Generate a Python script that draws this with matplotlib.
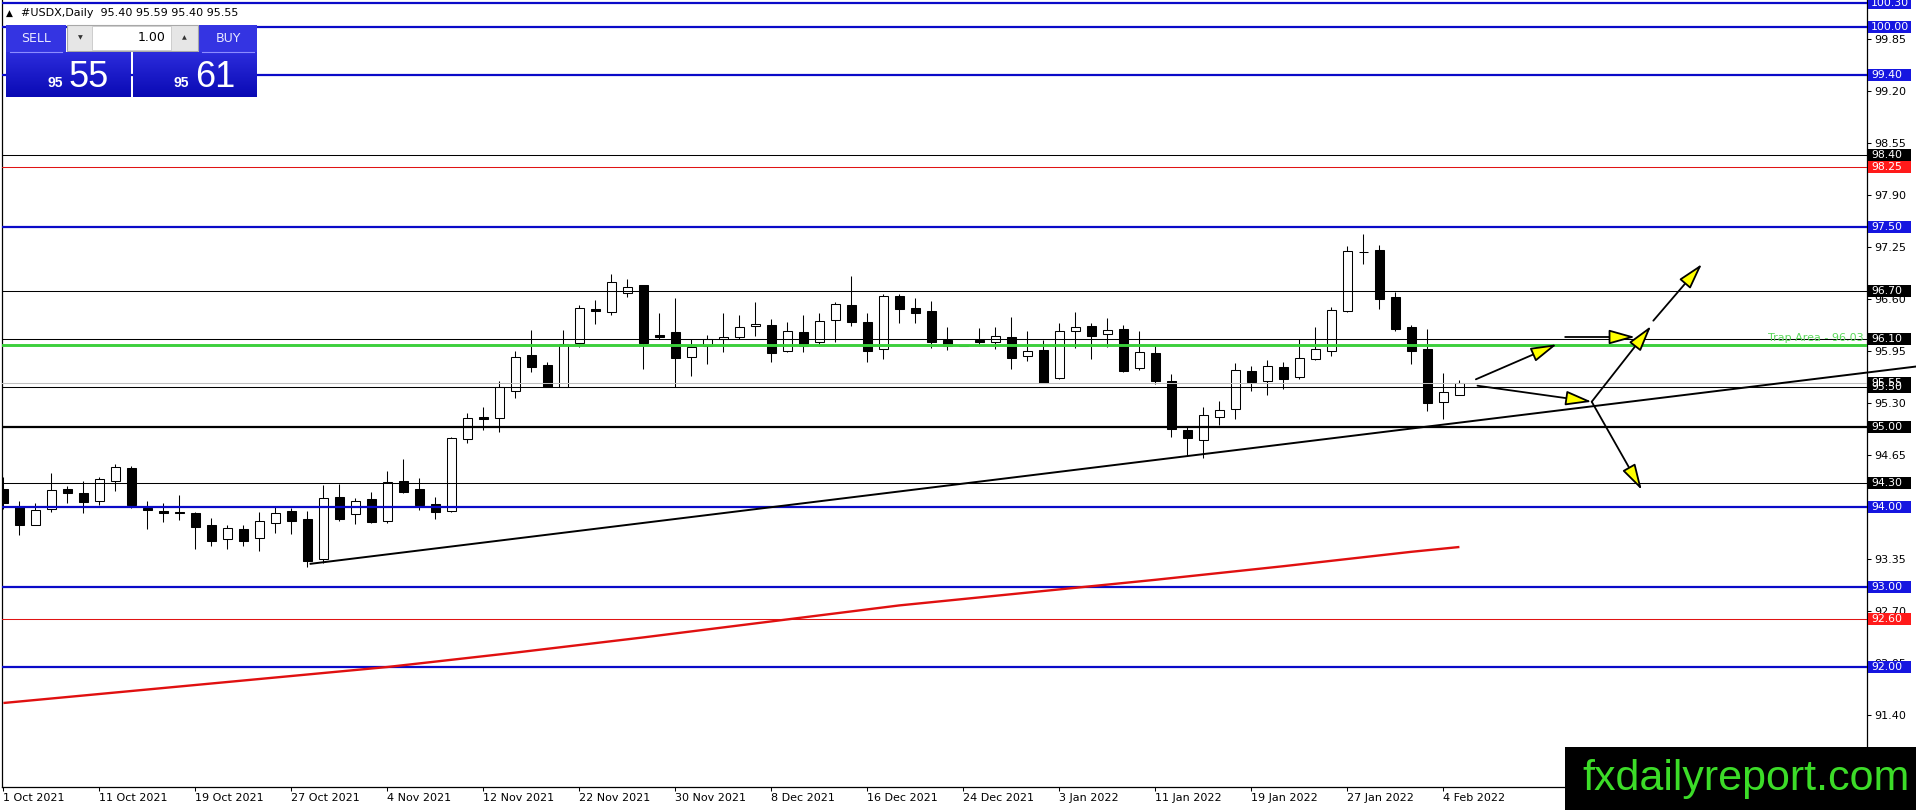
import numpy as np
import matplotlib
matplotlib.use("Agg")
import matplotlib.pyplot as plt
import matplotlib.transforms as mtransforms
from matplotlib.patches import Rectangle
from matplotlib.colors import LinearSegmentedColormap

# ---------------- data ----------------
symbol = "#USDX,Daily"
date_labels = ["1 Oct 2021", "11 Oct 2021", "19 Oct 2021", "27 Oct 2021", "4 Nov 2021",
               "12 Nov 2021", "22 Nov 2021", "30 Nov 2021", "8 Dec 2021", "16 Dec 2021",
               "24 Dec 2021", "3 Jan 2022", "11 Jan 2022", "19 Jan 2022", "27 Jan 2022",
               "4 Feb 2022"]
date_label_bars = [0, 6, 12, 18, 24, 30, 36, 42, 48, 54, 60, 66, 72, 78, 84, 90]

opens = [94.225, 94.004, 93.77, 93.97, 94.22, 94.175, 94.079, 94.33, 94.4875, 93.987,
         93.95, 93.937, 93.925, 93.77, 93.596, 93.72, 93.617, 93.796, 93.95, 93.85,
         93.35, 94.121, 93.908, 94.096, 93.829, 94.321, 94.225, 94.0375, 93.954, 94.846,
         95.12, 95.108, 95.45, 95.9, 95.77, 95.504, 96.046, 96.471, 96.442, 96.671,
         96.775, 96.146, 96.1875, 95.879, 96.017, 96.10, 96.129, 96.258, 96.271, 95.946,
         96.1875, 96.058, 96.342, 96.525, 96.308, 95.971, 96.633, 96.483, 96.45, 96.092,
         96.02, 96.092, 96.058, 96.121, 95.883, 95.9625, 95.617, 96.196, 96.2625, 96.158,
         96.225, 95.733, 95.925, 95.575, 94.958, 94.833, 95.121, 95.221, 95.696, 95.579,
         95.75, 95.621, 95.846, 95.946, 96.446, 97.19, 97.2125, 96.621, 96.246, 95.975,
         95.308, 95.40]
highs = [94.37, 94.075, 94.046, 94.42, 94.26, 94.32, 94.375, 94.5375, 94.51, 94.075,
         94.054, 94.15, 93.94, 93.858, 93.775, 93.775, 93.94, 94.004, 93.992, 93.95,
         94.275, 94.2875, 94.1125, 94.1875, 94.45, 94.596, 94.358, 94.12, 94.871, 95.17,
         95.246, 95.575, 95.95, 96.2125, 95.808, 96.2125, 96.525, 96.59, 96.9125, 96.85,
         96.78, 96.42, 96.608, 96.104, 96.146, 96.42, 96.40, 96.558, 96.346, 96.3125,
         96.40, 96.42, 96.558, 96.892, 96.42, 96.6625, 96.6625, 96.608, 96.575, 96.25,
         96.03, 96.2375, 96.25, 96.375, 96.20, 96.0875, 96.296, 96.4375, 96.304, 96.358,
         96.275, 96.196, 96.021, 95.658, 95.0125, 95.25, 95.325, 95.796, 95.7625, 95.8375,
         95.8125, 96.10, 96.246, 96.504, 97.2625, 97.408, 97.271, 96.6875, 96.271, 96.225,
         95.671, 95.59]
lows = [93.98, 93.654, 93.77, 93.94, 94.05, 93.92, 94.02, 94.204, 93.99, 93.73,
        93.817, 93.837, 93.47, 93.51, 93.47, 93.51, 93.454, 93.68, 93.667, 93.254,
        93.296, 93.83, 93.7875, 93.796, 93.804, 94.17, 93.96, 93.854, 93.94, 94.804,
        94.9625, 94.942, 95.367, 95.692, 95.496, 95.496, 96.004, 96.283, 96.40, 96.62,
        95.72, 96.096, 95.504, 95.642, 95.792, 95.942, 96.096, 96.1375, 95.817, 95.9375,
        95.942, 96.017, 96.067, 96.267, 95.817, 95.846, 96.304, 96.304, 95.992, 95.958,
        96.01, 96.017, 95.971, 95.729, 95.829, 95.546, 95.596, 95.992, 95.854, 96.004,
        95.683, 95.7125, 95.542, 94.879, 94.6375, 94.608, 95.03, 95.104, 95.454, 95.396,
        95.471, 95.596, 95.833, 95.8875, 96.44, 97.033, 96.479, 96.20, 95.783, 95.204,
        95.104, 95.40]
closes = [94.046, 93.779, 93.96, 94.208, 94.18, 94.067, 94.346, 94.496, 94.025, 93.958,
          93.92, 93.92, 93.754, 93.58, 93.733, 93.58, 93.825, 93.92, 93.829, 93.329,
          94.108, 93.854, 94.071, 93.817, 94.308, 94.192, 94.025, 93.942, 94.8625, 95.108,
          95.096, 95.496, 95.879, 95.754, 95.496, 96.0375, 96.483, 96.454, 96.808, 96.746,
          96.054, 96.129, 95.867, 95.996, 96.096, 96.121, 96.246, 96.283, 95.929, 96.196,
          96.017, 96.321, 96.533, 96.317, 95.954, 96.633, 96.479, 96.429, 96.067, 96.017,
          96.015, 96.058, 96.133, 95.867, 95.95, 95.546, 96.196, 96.246, 96.142, 96.2125,
          95.704, 95.9375, 95.579, 94.971, 94.858, 95.146, 95.208, 95.708, 95.567, 95.758,
          95.604, 95.858, 95.971, 96.458, 97.196, 97.183, 96.604, 96.229, 95.954, 95.304,
          95.442, 95.55]

ma_bars = [0, 8, 16, 24, 32, 40, 48, 56, 64, 72, 80, 88, 91]
ma_values = [91.55, 91.70, 91.85, 92.00, 92.18, 92.37, 92.57, 92.77, 92.93, 93.09, 93.26, 93.44, 93.50]

level_prices = [100.30, 100.00, 99.40, 98.40, 98.25, 97.50, 96.70, 96.10, 95.50,
                95.00, 94.30, 94.00, 93.00, 92.60, 92.00]
level_kinds = ["blue", "blue", "blue", "black", "red", "blue", "black", "black", "black",
               "black2", "black", "blue", "blue", "red", "blue"]
trap_level = 96.03
trap_text = "Trap Area - 96.03"
bid_price = 95.55
ask_price = 95.61
lot_size = "1.00"

trend_x = [19.2, 119.5]
trend_y = [93.29, 95.755]

arrow_starts = [(92.03, 95.596), (97.61, 96.125), (92.13, 95.516), (99.27, 95.316),
                (103.12, 96.329), (99.27, 95.316)]
arrow_tips = [(97.09, 96.034), (101.98, 96.125), (99.27, 95.316), (102.98, 96.2625),
              (106.16, 97.0375), (102.4, 94.2125)]

y_ticks = [91.40, 92.05, 92.70, 93.35, 94.00, 94.65, 95.30, 95.95, 96.60, 97.25,
           97.90, 98.55, 99.20, 99.85]

# ---------------- styles ----------------
W, H = 1916, 810
BLUE_LINE = "#0a0ac8"
BLUE_BOX = "#1616e0"
RED = "#e01414"
GREEN = "#3ccf3c"
kind_style = {
    "blue": (BLUE_LINE, 1.6, BLUE_BOX),
    "black": ("black", 0.75, "black"),
    "black2": ("black", 1.6, "black"),
    "red": (RED, 0.75, "#ff1a1a"),
}

fig = plt.figure(figsize=(W / 100, H / 100), dpi=100)
fig.patch.set_facecolor("white")
ax_left, ax_right, ax_bottom, ax_top = 2, 1867, 787, 0
ax = fig.add_axes([ax_left / W, (H - ax_bottom) / H, (ax_right - ax_left) / W,
                   (ax_bottom - ax_top) / H])
ax.set_facecolor("white")

x = np.arange(len(opens))
o = np.array(opens)
c = np.array(closes)
up = c >= o
ax.vlines(x, lows, highs, color="black", lw=0.75, zorder=2)
bottoms = np.minimum(o, c)
heights = np.maximum(np.abs(c - o), 0.004)
ax.bar(x, heights, bottom=bottoms, width=0.6,
       color=np.where(up, "white", "black"), edgecolor="black", linewidth=0.75, zorder=3)

# horizontal levels
ax.axhline(bid_price, color="#c0c0c0", lw=0.75, zorder=4)
for p, k in zip(level_prices, level_kinds):
    col, lw, _ = kind_style[k]
    ax.axhline(p, color=col, lw=lw, zorder=4)
ax.axhline(trap_level, color=GREEN, lw=2.1, zorder=4)

# moving average
ax.plot(ma_bars, ma_values, color="#e01010", lw=1.7, zorder=4, solid_capstyle="butt")

# trendline
ax.plot(trend_x, trend_y, color="black", lw=1.4, zorder=5, clip_on=False)

# arrows
for s, t in zip(arrow_starts, arrow_tips):
    ax.annotate("", xy=t, xytext=s,
                arrowprops=dict(arrowstyle="-|>,head_length=1.6,head_width=0.45",
                                mutation_scale=10, fc="#ffff00", ec="black", lw=1.3,
                                shrinkA=0, shrinkB=0), zorder=6)

ax.set_xlim((ax_left - 3.4) / 16, (ax_right - 3.4) / 16)
top_price = 100 + 27 / 80
bot_price = 100 - (ax_bottom - 27) / 80
ax.set_ylim(bot_price, top_price)

# axes styling
ax.spines["top"].set_visible(False)
for side in ["left", "right", "bottom"]:
    ax.spines[side].set_linewidth(0.9)
ax.yaxis.tick_right()
ax.set_yticks(y_ticks)
ax.set_yticklabels([f"{v:.2f}" for v in y_ticks])
ax.tick_params(axis="y", direction="out", length=3, width=0.75, pad=2, labelsize=8)
ax.set_xticks(date_label_bars)
ax.set_xticklabels(date_labels)
ax.tick_params(axis="x", direction="out", length=3, width=0.75, pad=1.5, labelsize=8)
for lbl in ax.get_xticklabels():
    lbl.set_ha("left")

# price label boxes on the right
trans = mtransforms.blended_transform_factory(fig.transFigure, ax.transData)
hh = 6.4 / 80
box_items = [(bid_price, "black")] + [b for b in zip(level_prices, level_kinds) if b[0] != 95.50] + \
            [b for b in zip(level_prices, level_kinds) if b[0] == 95.50]
for p, k in box_items:
    bc = kind_style[k][2]
    ax.add_patch(Rectangle((1868 / W, p - hh), 43 / W, 2 * hh, transform=trans,
                           fc=bc, ec="none", clip_on=False, zorder=7))
    ax.text(1871 / W, p, f"{p:.2f}", transform=trans, color="white", fontsize=7.8,
            ha="left", va="center", zorder=8, clip_on=False)

ax.text(1864 / W, trap_level + 3.5 / 80, trap_text, transform=trans, ha="right",
        va="baseline", color="#5ad85a", fontsize=8, zorder=8)

# ---------------- overlay (pixel coordinates) ----------------
ov = fig.add_axes([0, 0, 1, 1], zorder=10)
ov.patch.set_alpha(0)
ov.axis("off")

ov.text(9.5, 13, "\u25B2", fontsize=6.5, ha="center", va="center")
ov.text(21, 13, f"{symbol}  {opens[-1]:.2f} {highs[-1]:.2f} {lows[-1]:.2f} {closes[-1]:.2f}",
        fontsize=8, ha="left", va="center")

# one-click trading panel
btn_col = "#3434e2"
ov.add_patch(Rectangle((6, 25), 60, 27, fc=btn_col, ec="none"))
ov.add_patch(Rectangle((199, 25), 58, 27, fc=btn_col, ec="none"))
ov.plot([10, 62], [51.5, 51.5], color="#8c8cff", lw=0.8)
ov.plot([202, 254], [51.5, 51.5], color="#8c8cff", lw=0.8)
ov.text(36, 39, "SELL", color="#e8e8ff", fontsize=9, ha="center", va="center")
ov.text(228, 39, "BUY", color="#e8e8ff", fontsize=9, ha="center", va="center")
ov.add_patch(Rectangle((67, 25), 131, 26, fc="#e6e6e6", ec="#a8a8a8", lw=0.8))
ov.add_patch(Rectangle((92, 26), 79, 24, fc="white", ec="#c8c8c8", lw=0.6))
ov.text(80, 38, "\u25BC", fontsize=4.5, ha="center", va="center", color="#333333")
ov.text(184, 38, "\u25B2", fontsize=4.5, ha="center", va="center", color="#333333")
ov.text(166, 37.5, lot_size, fontsize=9, ha="right", va="center", color="black")

grad = LinearSegmentedColormap.from_list("g", ["#2c2cdc", "#0a0ab4"])
gimg = np.linspace(0, 1, 50).reshape(-1, 1)
ov.imshow(gimg, cmap=grad, extent=(6, 131, 97, 52), aspect="auto", zorder=1)
ov.imshow(gimg, cmap=grad, extent=(133, 257, 97, 52), aspect="auto", zorder=1)

sell_s = f"{bid_price:.2f}"
buy_s = f"{ask_price:.2f}"
ov.text(63, 87, sell_s[:2], color="white", fontsize=10, fontweight="bold",
        family="Liberation Sans", ha="right", va="baseline", zorder=3)
ov.text(69, 87, sell_s[3:], color="white", fontsize=26, family="Liberation Sans",
        ha="left", va="baseline", zorder=3)
ov.text(189, 87, buy_s[:2], color="white", fontsize=10, fontweight="bold",
        family="Liberation Sans", ha="right", va="baseline", zorder=3)
ov.text(195, 87, buy_s[3:], color="white", fontsize=26, family="Liberation Sans",
        ha="left", va="baseline", zorder=3)

# watermark
ov.add_patch(Rectangle((1565, 747), 351, 63, fc="black", ec="none", zorder=4))
ov.text(1582, 790, "fxdailyreport.com", color="#3cdc28", fontsize=31,
        family="Liberation Sans", ha="left", va="baseline", zorder=5)

ov.set_xlim(0, W)
ov.set_ylim(H, 0)

fig.savefig("out.png", dpi=100)
